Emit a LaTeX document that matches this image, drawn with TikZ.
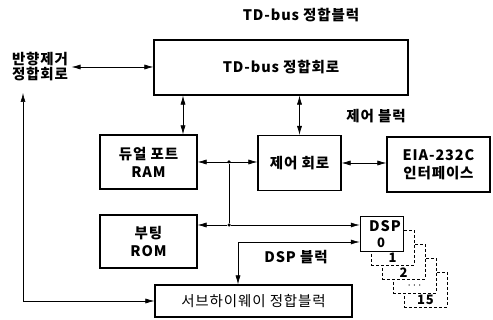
\documentclass[tikz,border=0pt]{standalone}
\usepackage{fontspec}
\setmainfont{Noto Sans CJK KR}[LetterSpace=6]
\usetikzlibrary{arrows.meta,positioning}
\tikzset{
  block/.style    = {draw, line width=1.2pt, rectangle, align=center, inner sep=0pt},
  stackbox/.style = {draw, densely dashed, line width=0.5pt, fill=white,
                     minimum width=43pt, minimum height=35pt, inner sep=0pt},
  sig/.style      = {-{Latex[length=9pt,width=5pt]}, line width=0.6pt},
  bisig/.style    = {{Latex[length=9pt,width=5pt]}-{Latex[length=9pt,width=5pt]}, line width=0.6pt},
  jdot/.style     = {fill, circle, inner sep=0pt, minimum size=3.5pt},
}
\begin{document}
\begin{tikzpicture}[x=1pt,y=-1pt,font=\fontsize{14.5}{16}\selectfont\bfseries]
\useasboundingbox (0,0) rectangle (493,320);
% blocks
\node[block, minimum width=254pt, minimum height=55pt] (tdbus) at (281,67.5) {TD-bus 정합회로};
\node[align=center] (echo) at (40,67) {반향제거\\[-1pt]정합회로};
\node[block, minimum width=97pt, minimum height=54pt] (ram) at (148.5,162) {듀얼 포트\\[2pt]RAM};
\node[block, minimum width=83pt, minimum height=55pt] (ctrl) at (299.5,163) {제어 회로};
\node[block, minimum width=103pt, minimum height=55pt] (eia) at (438.5,164.5) {EIA-232C\\[2pt]인터페이스};
\node[block, minimum width=97pt, minimum height=53pt] (rom) at (148.5,241.5) {부팅\\[2pt]ROM};
\node[block, minimum width=197pt, minimum height=32pt, font=\fontsize{14.5}{16}\selectfont]
  (sub) at (253.5,301) {서브하이웨이 정합블럭};
% DSP stack
\foreach \i/\lab in {4/15,3/$\cdots$,2/2,1/1}{
  \node[stackbox] (dsp\i) at ({381.5+11*\i},{233.5+14*\i}) {};
  \node[font=\fontsize{13}{14}\selectfont\bfseries] (lab\i) at ([yshift=7pt]dsp\i.south) {\lab};
}
\node[stackbox, solid] (dsp0) at (381.5,233.5) {};
\node (dspname) at (385,226) {DSP};
\node[font=\fontsize{13}{14}\selectfont\bfseries] (lab0) at (381,243) {0};
% labels
\node (title) at (301,15) {TD-bus 정합블럭};
\node (ctrlblk) at (376,116) {제어 블럭};
\node (dspblk) at (296,257) {DSP 블럭};
% connectors
\draw[bisig] (echo.east) -- (echo.east -| tdbus.west);
\draw[bisig] ([xshift=34.5pt]ram.north) -- ([xshift=34.5pt]ram.north |- tdbus.south);
\draw[bisig] (ctrl.north) -- (ctrl.north |- tdbus.south);
\draw[bisig] (ram.east) -- (ram.east -| ctrl.west);
\draw[bisig] (ctrl.east) -- (ctrl.east -| eia.west);
\node[jdot] (j1) at (229,162) {};
\node[jdot] (j2) at (229,225) {};
\draw (j1) -- (j2);
\draw[sig] (j2) -- (j2 -| rom.east);
\draw[sig] (j2) -- (j2 -| dsp0.west);
\coordinate (k) at (238,242);
\draw[bisig] (k -| dsp0.west) -- (k) -- (k |- sub.north);
\coordinate (lt) at (23,93);
\draw[bisig] (sub.west) -- (sub.west -| lt) -- (lt);
\end{tikzpicture}
\end{document}
